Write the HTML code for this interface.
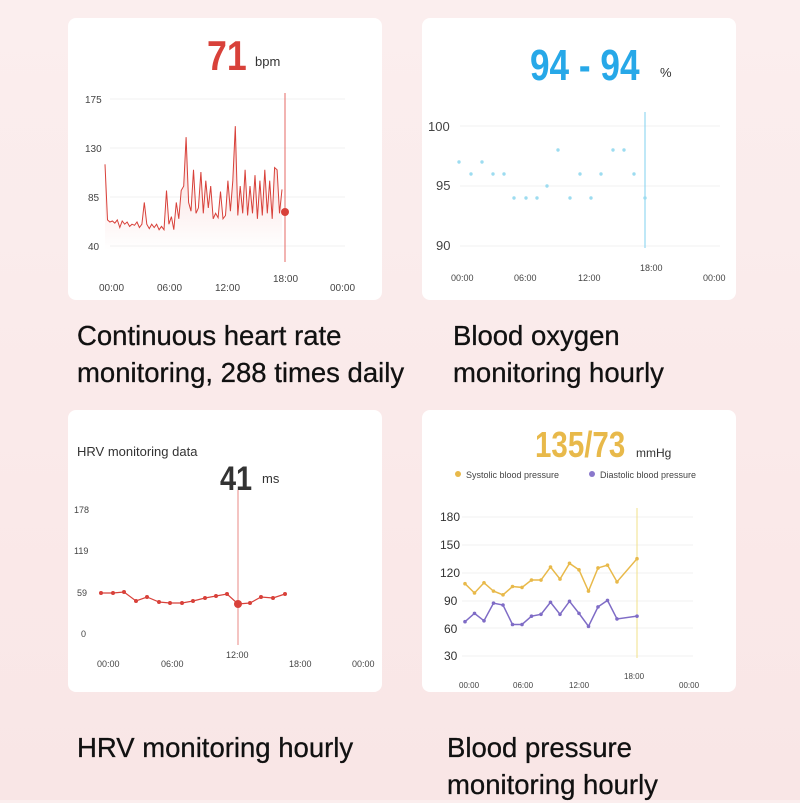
<!DOCTYPE html><html><head><style>
body{margin:0;width:800px;height:800px;background:linear-gradient(#fbeeee,#f9e6e6);font-family:"Liberation Sans",sans-serif;position:relative;overflow:hidden}
.card{position:absolute;background:#fff;border-radius:8px;width:314px;height:282px}
.cap{position:absolute;font-size:27.5px;color:#111;line-height:37px;-webkit-text-stroke:0.3px #111}
svg{position:absolute;left:0;top:0}
</style></head><body>
<div class="card" style="left:68px;top:18px"></div>
<div class="card" style="left:422px;top:18px"></div>
<div class="card" style="left:68px;top:410px"></div>
<div class="card" style="left:422px;top:410px"></div>
<div class="cap" style="left:77px;top:317px">Continuous heart rate<br>monitoring, 288 times daily</div>
<div class="cap" style="left:453px;top:317px">Blood oxygen<br>monitoring hourly</div>
<div class="cap" style="left:77px;top:729px">HRV monitoring hourly</div>
<div class="cap" style="left:447px;top:729px">Blood pressure<br>monitoring hourly</div>
<svg width="800" height="800" font-family="Liberation Sans, sans-serif">
<defs><linearGradient id="rg" x1="0" y1="0" x2="0" y2="1"><stop offset="0" stop-color="#e0403a" stop-opacity=".22"/><stop offset="1" stop-color="#e0403a" stop-opacity="0"/></linearGradient></defs>
<!-- HR -->
<text x="207" y="70" font-size="42" font-weight="bold" fill="#d8413a" transform="scale(0.85,1)" transform-origin="207 70">71</text>
<text x="255" y="66" font-size="13" fill="#333">bpm</text>
<g font-size="10" fill="#444"><text x="85" y="103">175</text><text x="85" y="152">130</text><text x="88" y="201">85</text><text x="88" y="250">40</text>
<text x="99" y="291">00:00</text><text x="157" y="291">06:00</text><text x="215" y="291">12:00</text><text x="273" y="282">18:00</text><text x="330" y="291">00:00</text></g>
<g stroke="#f2f2f2"><line x1="110" y1="99" x2="345" y2="99"/><line x1="110" y1="148" x2="345" y2="148"/><line x1="110" y1="197" x2="345" y2="197"/><line x1="110" y1="246" x2="345" y2="246"/></g>
<line x1="285" y1="93" x2="285" y2="262" stroke="#e56a64" stroke-width="1"/>
<path id="hra" fill="url(#rg)" stroke="none"/>
<path id="hr" fill="none" stroke="#d8413a" stroke-width="1"/>
<circle cx="285" cy="212" r="4" fill="#d8413a"/>
<!-- SpO2 -->
<text x="530" y="80" font-size="44" font-weight="bold" fill="#27a8e8" transform="scale(0.8,1)" transform-origin="530 80">94 - 94</text>
<text x="660" y="77" font-size="13" fill="#333">%</text>
<g font-size="13" fill="#444"><text x="428" y="131">100</text><text x="436" y="190">95</text><text x="436" y="250">90</text></g>
<g font-size="9" fill="#444"><text x="451" y="281">00:00</text><text x="514" y="281">06:00</text><text x="578" y="281">12:00</text><text x="640" y="271">18:00</text><text x="703" y="281">00:00</text></g>
<g stroke="#f2f2f2"><line x1="460" y1="126" x2="720" y2="126"/><line x1="460" y1="186" x2="720" y2="186"/><line x1="460" y1="246" x2="720" y2="246"/></g>
<line x1="645" y1="112" x2="645" y2="248" stroke="#7fd0ef"/>
<g fill="#9ddcf0" id="sp"></g>
<!-- HRV -->
<text x="77" y="456" font-size="13" fill="#333">HRV monitoring data</text>
<text x="220" y="490" font-size="34" font-weight="bold" fill="#333" transform="scale(0.85,1)" transform-origin="220 490">41</text>
<text x="262" y="483" font-size="13" fill="#333">ms</text>
<g font-size="9" fill="#444"><text x="74" y="513">178</text><text x="74" y="554">119</text><text x="77" y="596">59</text><text x="81" y="637">0</text>
<text x="97" y="667">00:00</text><text x="161" y="667">06:00</text><text x="226" y="658">12:00</text><text x="289" y="667">18:00</text><text x="352" y="667">00:00</text></g>
<line x1="238" y1="490" x2="238" y2="645" stroke="#e88a84"/>
<polyline fill="none" stroke="#d8413a" stroke-width="1.2" id="hv"/>
<g fill="#d8413a" id="hvd"></g>
<circle cx="238" cy="604" r="4" fill="#d8413a"/>
<!-- BP -->
<text x="535" y="457" font-size="36" font-weight="bold" fill="#e8b94a" transform="scale(0.82,1)" transform-origin="535 457">135/73</text>
<text x="636" y="457" font-size="12" fill="#333">mmHg</text>
<circle cx="458" cy="474" r="3" fill="#e8b94a"/><text x="466" y="478" font-size="9" fill="#444">Systolic blood pressure</text>
<circle cx="592" cy="474" r="3" fill="#8a78cc"/><text x="600" y="478" font-size="9" fill="#444">Diastolic blood pressure</text>
<g font-size="12" fill="#333"><text x="440" y="521">180</text><text x="440" y="549">150</text><text x="440" y="577">120</text><text x="444" y="605">90</text><text x="444" y="633">60</text><text x="444" y="660">30</text></g>
<g font-size="8" fill="#444"><text x="459" y="688">00:00</text><text x="513" y="688">06:00</text><text x="569" y="688">12:00</text><text x="624" y="679">18:00</text><text x="679" y="688">00:00</text></g>
<g stroke="#f2f2f2"><line x1="462" y1="517" x2="693" y2="517"/><line x1="462" y1="545" x2="693" y2="545"/><line x1="462" y1="573" x2="693" y2="573"/><line x1="462" y1="601" x2="693" y2="601"/><line x1="462" y1="628" x2="693" y2="628"/><line x1="462" y1="656" x2="693" y2="656"/></g>
<line x1="637" y1="508" x2="637" y2="658" stroke="#f1e08a"/>
<polyline id="sy" fill="none" stroke="#e8b94a" stroke-width="1.5"/><g id="syd" fill="#e8b94a"></g>
<polyline id="di" fill="none" stroke="#7f6cc6" stroke-width="1.5"/><g id="did" fill="#7f6cc6"></g>
</svg>
<script>
function Y(v,v0,y0,v1,y1){return y0+(v-v0)*(y1-y0)/(v1-v0);}
var pts=[],base=[115,64,62,63,61,64,57,63,60,62,58,60,59,62,57,60,80,60,56,60,57,60,55,58,55,91,60,67,55,80,65,91,95,140,80,72,110,70,75,108,70,100,75,95,65,70,66,90,65,68,100,72,100,150,68,95,70,110,68,95,70,105,65,100,68,110,70,100,65,112,110,70,92];
var n=base.length;
for(var i=0;i<n;i++){var x=105+i*(282-105)/(n-1);pts.push(x.toFixed(1)+","+Y(base[i],40,246,175,99).toFixed(1));}
document.getElementById('hr').setAttribute('d','M'+pts.join(' L'));
document.getElementById('hra').setAttribute('d','M'+pts.join(' L')+' L282,250 L105,250 Z');
var sp=[[459,97],[471,96],[482,97],[493,96],[504,96],[514,94],[526,94],[537,94],[547,95],[558,98],[570,94],[580,96],[591,94],[601,96],[613,98],[624,98],[634,96],[645,94]],g='';
sp.forEach(function(p){g+='<circle cx="'+p[0]+'" cy="'+Y(p[1],90,246,100,126)+'" r="1.7"/>';});
document.getElementById('sp').innerHTML=g;
var hv=[[101,593],[113,593],[124,592],[136,601],[147,597],[159,602],[170,603],[182,603],[193,601],[205,598],[216,596],[227,594],[238,604],[250,603],[261,597],[273,598],[285,594]],p2=[],d2='';
hv.forEach(function(p){p2.push(p.join(','));d2+='<circle cx="'+p[0]+'" cy="'+p[1]+'" r="2"/>';});
document.getElementById('hv').setAttribute('points',p2.join(' '));document.getElementById('hvd').innerHTML=d2;
var sy=[108,98,109,100,96,105,104,112,112,126,113,130,123,100,125,128,110,135],di=[67,76,68,87,85,64,64,73,75,88,75,89,76,62,83,90,70,73];
function bp(arr,id){var p=[],d='';arr.forEach(function(v,i){var x=i<17?465+i*9.5:637;var y=Y(v,30,656,180,517);p.push(x+','+y);d+='<circle cx="'+x+'" cy="'+y+'" r="1.8"/>';});document.getElementById(id).setAttribute('points',p.join(' '));document.getElementById(id+'d').innerHTML=d;}
bp(sy,'sy');bp(di,'di');
</script>
</body></html>
